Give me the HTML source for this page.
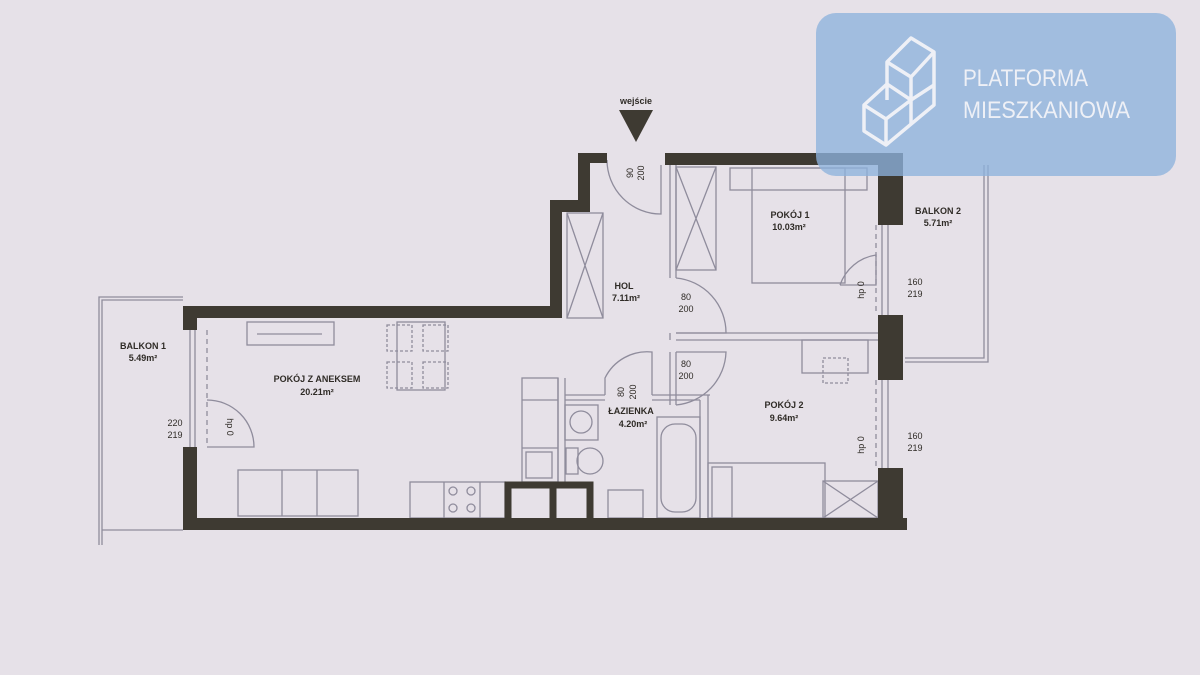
<!DOCTYPE html>
<html><head><meta charset="utf-8"><style>
html,body{margin:0;padding:0;background:#e6e1e8;}
svg{display:block}
text{font-family:"Liberation Sans",sans-serif;font-weight:bold;fill:#2f2b26}
</style></head><body>
<svg width="1200" height="675" viewBox="0 0 1200 675" xmlns="http://www.w3.org/2000/svg">
<rect width="1200" height="675" fill="#e6e1e8"/>
<g fill="none" stroke="#8f8c9c" stroke-width="1.3">
<!-- balcony 1 -->
<path d="M99 545 V297 H183"/><path d="M102 545 V300 H183"/><path d="M102 530 H183"/>
<!-- balcony 2 -->
<path d="M905 362 H988 V165"/><path d="M905 358 H984 V165"/>
<!-- windows -->
<path d="M190 330 V447 M195 330 V447"/><path d="M882 225 V315 M888 225 V315 M882 380 V468 M888 380 V468"/>
<path d="M207 330 V447 M876 225 V315 M876 380 V468" stroke-dasharray="5 4"/>
<!-- living furniture -->
<rect x="247" y="322" width="87" height="23"/><path d="M257 334 H322"/>
<rect x="397" y="322" width="48" height="68"/><rect x="387" y="325" width="25" height="26" stroke-dasharray="3 2"/><rect x="423" y="325" width="25" height="26" stroke-dasharray="3 2"/><rect x="387" y="362" width="25" height="26" stroke-dasharray="3 2"/><rect x="423" y="362" width="25" height="26" stroke-dasharray="3 2"/>
<rect x="238" y="470" width="120" height="46"/><path d="M282 470 V516 M317 470 V516"/>
<rect x="410" y="482" width="95" height="36"/><path d="M444 482 V518 M480 482 V518"/>
<circle cx="453" cy="491" r="4"/><circle cx="471" cy="491" r="4"/><circle cx="453" cy="508" r="4"/><circle cx="471" cy="508" r="4"/>
<path d="M207 400 A47 47 0 0 1 254 447 H207"/>
<!-- kitchen column -->
<rect x="522" y="378" width="36" height="104"/><path d="M522 400 H558 M522 448 H558 M558 378 V482 M565 378 V482"/>
<rect x="526" y="452" width="26" height="26"/>
<!-- bathroom -->
<path d="M565 395 H605 M565 400 H605 M652 395 H710 M652 400 H700 M700 400 V518 M708 395 V518"/>
<rect x="565" y="405" width="33" height="35"/><circle cx="581" cy="422" r="11"/>
<rect x="566" y="448" width="12" height="26"/><ellipse cx="590" cy="461" rx="13" ry="13"/>
<rect x="608" y="490" width="35" height="28"/>
<rect x="657" y="417" width="43" height="101"/><rect x="661" y="424" width="35" height="88" rx="14"/>
<path d="M605 395 V378 A47 47 0 0 1 652 352 V395"/>
<!-- hol -->
<rect x="567" y="213" width="36" height="105"/><path d="M567 213 L603 318 M603 213 L567 318"/>
<path d="M607 160 A54 54 0 0 0 661 214 V165"/>
<path d="M670 165 V278 M676 165 V278 M670 352 V405 M676 352 V405 M670 333 V340 M676 333 H880 M676 340 H880"/>
<path d="M676 278 A55 55 0 0 1 726 333 H676 M676 405 A55 55 0 0 0 726 352 H676"/>
<!-- pokoj 1 -->
<rect x="676" y="167" width="40" height="103"/><path d="M676 167 L716 270 M716 167 L676 270"/>
<rect x="730" y="168" width="137" height="22"/><rect x="752" y="168" width="93" height="115"/>
<path d="M840 285 A45 45 0 0 1 876 255 V285 H840"/>
<!-- pokoj 2 -->
<rect x="802" y="340" width="66" height="33"/><rect x="823" y="358" width="25" height="25" stroke-dasharray="3 2"/>
<rect x="708" y="463" width="117" height="55"/><rect x="712" y="467" width="20" height="51"/>
<rect x="823" y="481" width="55" height="37"/><path d="M823 481 L878 518 M878 481 L823 518"/>
</g>
<!-- walls -->
<g fill="#3e3a32">
<rect x="185" y="306" width="377" height="12"/>
<rect x="550" y="200" width="12" height="118"/>
<rect x="550" y="200" width="40" height="12"/>
<rect x="578" y="153" width="12" height="59"/>
<rect x="578" y="153" width="29" height="10"/>
<rect x="665" y="153" width="238" height="12"/>
<rect x="183" y="306" width="14" height="24"/>
<rect x="183" y="447" width="14" height="83"/>
<rect x="183" y="518" width="724" height="12"/>
<rect x="878" y="153" width="15" height="72"/><rect x="893" y="165" width="10" height="60"/>
<rect x="878" y="315" width="25" height="65"/>
<rect x="878" y="468" width="25" height="62"/>
</g>
<path d="M508 518 V485 H590 V518 M553 485 V518" fill="none" stroke="#3e3a32" stroke-width="7"/>
<polygon points="619,110 653,110 636,142" fill="#3e3a32"/>
<!-- labels -->
<g font-size="9" text-anchor="middle">
<text x="636" y="104">wejście</text>
<text x="143" y="349">BALKON 1</text><text x="143" y="361">5.49m²</text>
<text x="317" y="382">POKÓJ Z ANEKSEM</text><text x="317" y="395">20.21m²</text>
<text x="624" y="289">HOL</text><text x="626" y="301">7.11m²</text>
<text x="790" y="218">POKÓJ 1</text><text x="789" y="230">10.03m²</text>
<text x="938" y="214">BALKON 2</text><text x="938" y="226">5.71m²</text>
<text x="631" y="414">ŁAZIENKA</text><text x="633" y="427">4.20m²</text>
<text x="784" y="408">POKÓJ 2</text><text x="784" y="421">9.64m²</text>
</g>
<g font-size="9" text-anchor="middle" font-weight="normal" style="font-weight:normal">
<text x="686" y="300" style="font-weight:normal">80</text><text x="686" y="312" style="font-weight:normal">200</text>
<text x="686" y="367" style="font-weight:normal">80</text><text x="686" y="379" style="font-weight:normal">200</text>
<text x="915" y="285" style="font-weight:normal">160</text><text x="915" y="297" style="font-weight:normal">219</text>
<text x="915" y="439" style="font-weight:normal">160</text><text x="915" y="451" style="font-weight:normal">219</text>
<text x="175" y="426" style="font-weight:normal">220</text><text x="175" y="438" style="font-weight:normal">219</text>
<text transform="translate(633,173) rotate(-90)" style="font-weight:normal">90</text>
<text transform="translate(644,173) rotate(-90)" style="font-weight:normal">200</text>
<text transform="translate(624,392) rotate(-90)" style="font-weight:normal">80</text>
<text transform="translate(636,392) rotate(-90)" style="font-weight:normal">200</text>
<text transform="translate(864,290) rotate(-90)" style="font-weight:normal">hp 0</text>
<text transform="translate(864,445) rotate(-90)" style="font-weight:normal">hp 0</text>
<text transform="translate(227,427) rotate(90)" style="font-weight:normal">hp 0</text>
</g>
<!-- logo -->
<rect x="816" y="13" width="360" height="163" rx="20" fill="#8db2dc" opacity="0.78"/>
<g fill="none" stroke="#eef0f6" stroke-width="3.5" stroke-linejoin="round">
<polygon points="911,38 934,52 934,105 886,145 864,131 864,105 887,84 887,62"/>
<path d="M887,62 911,77 934,52 M911,77 V124 M887,84 911,100 934,85 M864,105 886,119 911,100 M886,119 V145 M887,84 V100"/>
</g>
<g fill="#eef0f6" font-size="24" style="font-weight:normal">
<text x="963" y="86" textLength="125" lengthAdjust="spacingAndGlyphs" style="fill:#eef0f6;font-weight:normal">PLATFORMA</text>
<text x="963" y="118" textLength="167" lengthAdjust="spacingAndGlyphs" style="fill:#eef0f6;font-weight:normal">MIESZKANIOWA</text>
</g>
</svg>
</body></html>
